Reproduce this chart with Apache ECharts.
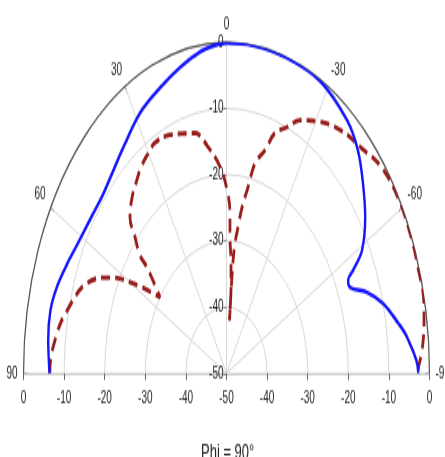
<!DOCTYPE html>
<html>
<head>
<meta charset="utf-8">
<script src="https://cdn.jsdelivr.net/npm/echarts@6/dist/echarts.min.js"></script>
<style>
  html, body { margin: 0; padding: 0; background: #fff; overflow: hidden; width: 445px; height: 457px; }
  /* the pattern is drawn on a short canvas and stretched vertically */
  #chart { width: 445px; height: 280px; transform: scaleY(1.632); transform-origin: 0 0; }
</style>
</head>
<body>
<div id="chart"></div>
<script>
// Elevation angle (deg, positive to the left) and gain (dB) for each cut
const blueAngles = [90, 89.4, 83.5, 77.6, 72.3, 66.7, 60.9, 54.5, 48.2, 41.8, 36, 28.5, 20.8, 13.9, 7.7, 3.3, 0,
  -7.5, -17.3, -27.5, -37.8, -43.9, -49.5, -55.4, -60.9, -63.5, -64.8, -66.9, -70.5, -74.7, -79.7, -83, -89.5, -90];
const blueGain = [-6.4, -6.35, -5.8, -5.6, -6.3, -7.5, -8.6, -9.2, -9.3, -8.5, -7.3, -5.3, -3.9, -2.4, -1.05, -0.4, -0.1,
  -0.05, -0.1, -0.2, -1.6, -3.3, -5.8, -8.5, -11.8, -15.2, -16.9, -16.9, -13.3, -10.0, -7.1, -5.2, -2.8, -2.8];

const redAngles = [90, 89.4, 81.8, 76.4, 68.4, 63.2, 59.4, 55, 50.7, 50.1, 47.6, 45.2, 41.2, 37.1, 34, 30.7, 26.9,
  21.2, 15, 12.1, 7.6, 2.9, -0.3, -2.0, -2.4, -3.8, -4.9, -5.2, -5.3, -5.4, -6.1, -7.3, -8.7, -10.7, -12.5,
  -15.7, -18.2, -21.8, -25.3, -30.3, -37.3, -44.5, -51, -58.6, -65.9, -72.1, -77.3, -80.7, -85.9, -89.8, -90];
const redGain = [-6.5, -6.5, -7.8, -9.6, -13, -17.9, -23.3, -30, -24.7, -22.2, -19.5, -16.5, -14.7, -13.4, -12.4, -11.7, -11,
  -11.4, -12.5, -12.9, -15.5, -18.8, -22.3, -25.8, -29.4, -33.3, -36.9, -40.4, -42, -33, -30.2, -27.8, -24.6, -21.4, -17.5,
  -15, -11.8, -10, -7.7, -5.9, -3.8, -2.4, -0.7, -0.1, -0.1, -0.2, -0.2, -0.7, -1.7, -2.8, -2.8];

// Tick labels
const angleTickValues = [90, 60, 30, 0, -30, -60, -90];
const angleTickLabels = ['90', '60', '30', '0', '-30', '-60', '-90'];
const baseTickLabels = ['0', '-10', '-20', '-30', '-40', '-50', '-40', '-30', '-20', '-10', '0'];
const titleText = 'Phi = 90°';

const FONT = 'Liberation Sans, Arial, sans-serif';
const CX = 226.5, CY = 228.8, R = 203;

const chart = echarts.init(document.getElementById('chart'), null, { renderer: 'canvas' });

const toPolar = (angles, gains) => angles.map((a, i) => [gains[i], -a]);

chart.setOption({
  animation: false,
  backgroundColor: '#fff',
  title: {
    text: titleText,
    left: 196,
    top: 266,
    textStyle: { fontSize: 13, fontWeight: 'normal', color: '#222', fontFamily: FONT }
  },
  polar: { center: [CX, CY], radius: R },
  angleAxis: {
    type: 'value',
    min: -90,
    max: 90,
    interval: 30,
    startAngle: 180,
    endAngle: 0,
    clockwise: true,
    axisLine: { lineStyle: { color: '#555', width: 1.2 } },
    axisTick: { show: true, inside: true, length: 4, lineStyle: { color: '#333' } },
    axisLabel: {
      fontSize: 10, color: '#222', fontFamily: FONT, margin: 6,
      formatter: v => {
        const k = angleTickValues.indexOf(Math.round(-v) === 0 ? 0 : Math.round(-v));
        return k >= 0 ? angleTickLabels[k] : '';
      }
    },
    splitLine: { show: true, lineStyle: { color: '#d9d9d9', width: 1 } }
  },
  radiusAxis: {
    type: 'value',
    min: -50,
    max: 0,
    interval: 10,
    axisLine: { show: false },
    axisTick: { show: false },
    axisLabel: { show: false },
    splitLine: { show: true, lineStyle: { color: '#d9d9d9', width: 1 } }
  },
  grid: [
    { left: CX - R, width: 2 * R, top: CY - R, height: R },
    { left: CX, width: 50, top: CY - R, height: R }
  ],
  xAxis: [
    {
      gridIndex: 0, type: 'value', min: -50, max: 50, interval: 10,
      axisLine: { show: true, lineStyle: { color: '#cfcfcf' } },
      axisTick: { show: true, length: 4, lineStyle: { color: '#666' } },
      axisLabel: {
        fontSize: 10, color: '#222', fontFamily: FONT, margin: 10,
        formatter: v => baseTickLabels[Math.round((v + 50) / 10)]
      },
      splitLine: { show: false }
    },
    { gridIndex: 1, type: 'value', min: 0, max: 1, show: false }
  ],
  yAxis: [
    { gridIndex: 0, type: 'value', min: 0, max: 1, show: false },
    {
      gridIndex: 1, type: 'value', min: -50, max: 0, interval: 10, position: 'left',
      axisLine: { show: false },
      axisTick: { show: true, length: 3, lineStyle: { color: '#888' } },
      axisLabel: { fontSize: 10, color: '#222', fontFamily: FONT, margin: 3 },
      splitLine: { show: false }
    }
  ],
  series: [
    {
      name: 'co-pol',
      type: 'line',
      coordinateSystem: 'polar',
      polarIndex: 0,
      data: toPolar(blueAngles, blueGain),
      showSymbol: false,
      smooth: 0.35,
      lineStyle: { color: '#1515ff', width: 2.4 },
      z: 4
    },
    {
      name: 'cross-pol',
      type: 'line',
      coordinateSystem: 'polar',
      polarIndex: 0,
      data: toPolar(redAngles, redGain),
      showSymbol: false,
      smooth: 0.4,
      lineStyle: { color: '#981e1e', width: 2.8, type: [9, 5] },
      z: 3
    }
  ]
});
</script>
</body>
</html>
